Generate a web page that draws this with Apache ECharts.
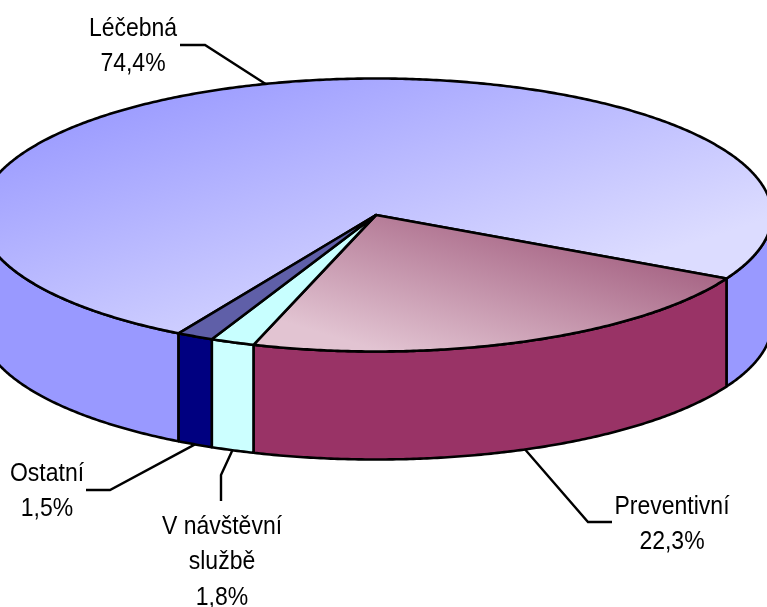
<!DOCTYPE html>
<html><head><meta charset="utf-8">
<style>html,body{margin:0;padding:0;background:#fff}#c{width:767px;height:607px}</style>
<script src="https://cdn.jsdelivr.net/npm/echarts@6/dist/echarts.min.js"></script>
</head><body><div id="c"></div>
<script>
const categories = ['Léčebná', 'Preventivní', 'V návštěvní\nslužbě', 'Ostatní'];
const shares = [74.4, 22.3, 1.8, 1.5];

// Presentation only
const firstSliceDeg = 119.9;
const sideColors = ['#9999FF', '#993366', '#CCFFFF', '#000080'];
const P = {cx: 376, cy: 215, rx: 396, ry: 136.5, depth: 108};
const topFills = [
  new echarts.graphic.LinearGradient(250, 44, 350, 354, [{offset: 0, color: '#9999FF'}, {offset: 1, color: '#DCDCFF'}], true),
  new echarts.graphic.LinearGradient(416, 162, 360, 345, [{offset: 0, color: '#A05A7C'}, {offset: 1, color: '#E2C4D2'}], true),
  '#C8FFFF',
  '#5F5FA8'
];
const labelBoxes = [
  {x: 133, y: 46,  elbow: [205, 45],  end: [180, 45]},
  {x: 672, y: 524, elbow: [588, 522], end: [612, 522]},
  {x: 222, y: 562, elbow: [221, 475], end: [221, 501]},
  {x: 47,  y: 491, elbow: [110, 490], end: [86, 490]}
];
const total = shares.reduce((a, b) => a + b, 0);
const rad = d => d * Math.PI / 180;
const rim = (deg, dy) => [P.cx + P.rx * Math.cos(rad(deg)), P.cy + dy + P.ry * Math.sin(rad(deg))];
function arc(a, b, dy) {
  const pts = [], n = Math.max(2, Math.ceil(Math.abs(b - a) * 2));
  for (let i = 0; i <= n; i++) pts.push(rim(a + (b - a) * i / n, dy));
  return pts;
}
const line = {stroke: '#000', lineWidth: 2.6, lineJoin: 'round'};

function renderItem(params, api) {
  const idx = params.dataIndex;
  let before = 0;
  for (let i = 0; i < idx; i++) before += shares[i];
  const a = firstSliceDeg + before / total * 360;
  const b = a + api.value(0) / total * 360;
  const kids = [];
  // front walls: only the parts in the 0..180 and 360..540 bands show
  [[0, 180], [360, 540]].forEach(([lo, hi]) => {
    const s = Math.max(a, lo), e = Math.min(b, hi);
    if (e > s) kids.push({
      type: 'polygon', z2: 1,
      shape: {points: arc(s, e, 0).concat(arc(e, s, P.depth))},
      style: Object.assign({fill: sideColors[idx]}, line)
    });
  });
  // top face
  kids.push({
    type: 'polygon', z2: 3,
    shape: {points: [[P.cx, P.cy]].concat(arc(a, b, 0))},
    style: Object.assign({fill: topFills[idx]}, line)
  });
  // leader from the slice's mid-angle to the label
  const mid = (a + b) / 2, m = ((mid % 360) + 360) % 360;
  const lay = labelBoxes[idx];
  kids.push({
    type: 'polyline', z2: 5,
    shape: {points: [rim(mid, m < 180 ? P.depth : 0), lay.elbow, lay.end]},
    style: {stroke: '#000', lineWidth: 2.4, fill: 'none'}
  });
  kids.push({
    type: 'text', z2: 6,
    x: lay.x, y: lay.y,
    scaleY: 1.14,
    style: {
      text: categories[idx] + '\n' + shares[idx].toFixed(1).replace('.', ',') + '%',
      font: '23px "Liberation Sans", Arial, sans-serif',
      lineHeight: 31, fill: '#000', align: 'center', verticalAlign: 'middle'
    }
  });
  return {type: 'group', children: kids};
}

const chart = echarts.init(document.getElementById('c'), null, {renderer: 'canvas'});
chart.setOption({
  animation: false,
  backgroundColor: '#fff',
  series: [{
    type: 'custom',
    coordinateSystem: 'none',
    renderItem,
    silent: true,
    clip: false,
    data: shares.map((v, i) => ({name: categories[i], value: [v]}))
  }]
});
</script></body></html>
